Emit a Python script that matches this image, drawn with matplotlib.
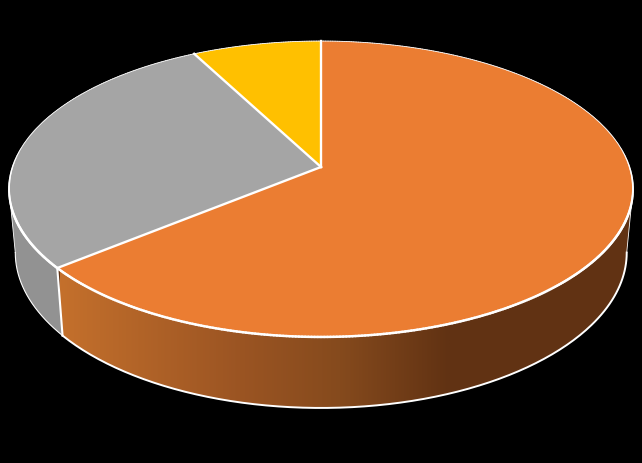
import numpy as np
import matplotlib
matplotlib.use("Agg")
import matplotlib.pyplot as plt
from matplotlib.patches import Polygon
from matplotlib.collections import LineCollection
from matplotlib.colors import LinearSegmentedColormap

# slices, clockwise from 12 o'clock
labels = ["A", "B", "C"]
values = [64.1, 28.2, 7.7]
colors = ["#EB7D32", "#A5A5A5", "#FFC000"]

# perspective of the disc, in pixels
CX = 321
K = 0.1486
TOP = dict(a=308.5, b=144.7, y0=167.0)
BOT = dict(a=308.5 * 0.98, b=144.7 * 1.05, y0=229.5)


def project(theta, p):
    # theta measured clockwise from the top of the disc
    u, v = np.sin(theta), np.cos(theta)
    d = 1 + K * v
    return CX + p["a"] * u / d, p["y0"] - p["b"] * v / d


def rim(t0, t1, p, n=200):
    x, y = project(np.linspace(t0, t1, n), p)
    return np.column_stack([x, y])


fig = plt.figure(figsize=(6.42, 4.63), dpi=100, facecolor="black")
ax = fig.add_axes([0, 0, 1, 1])
ax.axis("off")

edges = np.cumsum([0] + values) / sum(values) * 2 * np.pi
right = np.pi / 2 + np.arcsin(K)
left = 2 * np.pi - right

# side walls first
orange_side = np.vstack([rim(right, edges[1], TOP), rim(edges[1], right, BOT)])
grey_side = np.vstack([rim(edges[1], left, TOP), rim(left, edges[1], BOT)])

cmap = LinearSegmentedColormap.from_list(
    "side", [(0, "#C4702C"), (0.45, "#9C5523"), (0.72, "#854A1D"), (1, "#613213")])
grad = np.linspace(0, 1, 256).reshape(1, -1)
im = ax.imshow(grad, cmap=cmap, extent=[60, 450, 410, 190], aspect="auto", zorder=1)
ax.add_patch(Polygon(orange_side, closed=True, fc="#613213", ec="none", zorder=0.5))
clip = Polygon(orange_side, closed=True, fc="none", ec="none", zorder=1)
ax.add_patch(clip)
im.set_clip_path(clip)
ax.set_xlim(0, 642)
ax.set_ylim(463, 0)

ax.add_patch(Polygon(grey_side, closed=True, fc="#929292", ec="none", zorder=1))

# outlines of the walls
b = rim(edges[1], right, BOT)
ax.plot(b[:, 0], b[:, 1], color="white", lw=1.4, zorder=2)
b = rim(left, edges[1], BOT)
ax.plot(b[:, 0], b[:, 1], color="white", lw=0.8, zorder=2)
for e, w in ((edges[1], 1.5), (left, 0.6), (right, 0.6)):
    x0, y0 = project(e, TOP)
    x1, y1 = project(e, BOT)
    ax.plot([x0, x1], [y0, y1], color="white", lw=w, zorder=2)

# top faces
for i, c in enumerate(colors):
    pts = np.vstack([[CX, TOP["y0"]], rim(edges[i], edges[i + 1], TOP)])
    ax.add_patch(Polygon(pts, closed=True, fc=c, ec="none", zorder=3))

# white lines: spokes, then the rim, heavy at the front and thin at the back
for e in edges[:3]:
    x0, y0 = project(e, TOP)
    ax.plot([CX, x0], [TOP["y0"], y0], color="white", lw=1.7, zorder=4)
r = rim(0, 2 * np.pi, TOP, 721)
segs = np.stack([r[:-1], r[1:]], axis=1)
mid = np.linspace(0, 2 * np.pi, 720)
widths = 0.6 + 1.2 * np.clip((0.15 - np.cos(mid)) / 0.5, 0, 1)
ax.add_collection(LineCollection(segs, colors="white", linewidths=widths, capstyle="round", zorder=4))

fig.savefig("out.png", dpi=100, facecolor="black")
